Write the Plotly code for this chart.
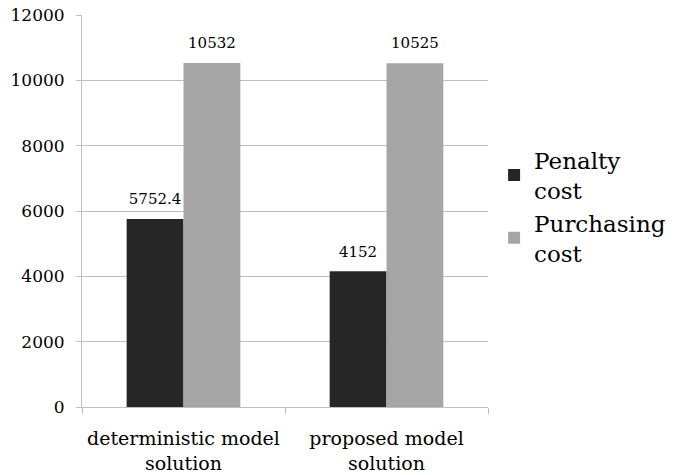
import plotly.graph_objects as go

categories = ["deterministic model<br>solution", "proposed model<br>solution"]
penalty_cost = [5752.4, 4152]
purchasing_cost = [10532, 10525]
penalty_labels = ["5752.4", "4152"]
purchasing_labels = ["10532", "10525"]

FONT = "DejaVu Serif"
GRID = "#bfbfbf"
GAP = 0.44

series = [
    ("Penalty<br>cost", penalty_cost, penalty_labels, "#262626"),
    ("Purchasing<br>cost", purchasing_cost, purchasing_labels, "#a6a6a6"),
]

fig = go.Figure()
for i, (name, vals, labels, color) in enumerate(series):
    fig.add_trace(go.Bar(
        x=categories, y=vals, name=name, legendgroup=f"g{i}",
        marker=dict(color=color, line=dict(width=0)),
    ))
for i, (name, vals, labels, color) in enumerate(series):
    # value labels, grouped like the bars; the invisible marker lifts the text off the bar top
    fig.add_trace(go.Scatter(
        x=categories, y=vals, mode="markers+text", text=labels,
        textposition="top center", showlegend=False, hoverinfo="skip",
        marker=dict(size=16, opacity=0), cliponaxis=False,
        textfont=dict(family=FONT, size=15, color="#000000"),
    ))

fig.update_layout(
    width=676, height=475,
    margin=dict(l=82, r=188, t=15, b=68, autoexpand=False),
    paper_bgcolor="white", plot_bgcolor="white",
    barmode="group", bargap=GAP, bargroupgap=0,
    scattermode="group", scattergap=GAP,
    font=dict(family=FONT, size=17, color="#000000"),
    legend=dict(x=1.015, y=0.685, xanchor="left", yanchor="top",
                font=dict(family=FONT, size=23), tracegroupgap=0,
                traceorder="grouped", itemwidth=30),
    xaxis=dict(type="category", showline=True, linecolor=GRID, linewidth=1,
               ticks="outside", tickson="boundaries", ticklen=6, tickcolor=GRID,
               showgrid=False, automargin=False, ticklabelstandoff=14,
               tickfont=dict(family=FONT, size=19)),
    yaxis=dict(range=[0, 12000], dtick=2000, showgrid=True, gridcolor=GRID,
               showline=True, linecolor=GRID, ticks="outside", ticklen=5,
               tickcolor=GRID, zeroline=False, tickformat="d", automargin=False,
               ticklabelstandoff=8, tickfont=dict(family=FONT, size=17)),
)

fig.write_html("out.html")
